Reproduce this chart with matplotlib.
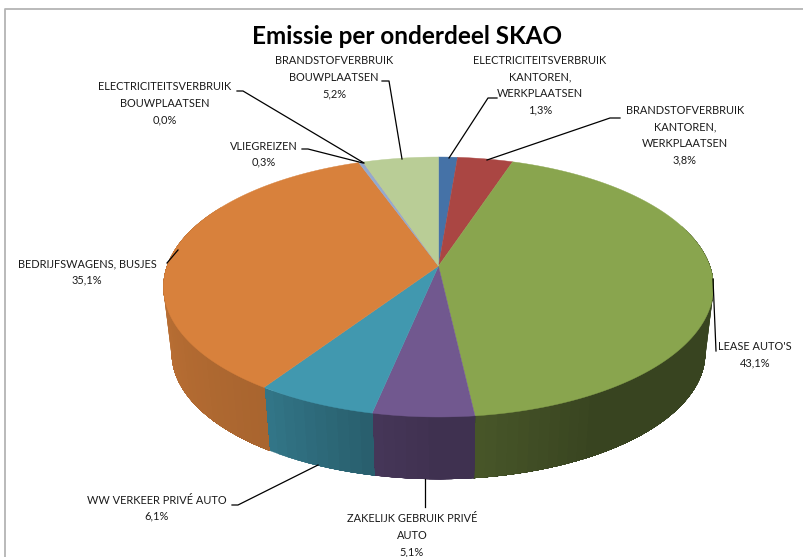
import numpy as np
import matplotlib
matplotlib.use("Agg")
import matplotlib.pyplot as plt
from matplotlib.colors import to_rgb

title = "Emissie per onderdeel SKAO"
categories = ["ELECTRICITEITSVERBRUIK\nKANTOREN,\nWERKPLAATSEN",
              "BRANDSTOFVERBRUIK\nKANTOREN,\nWERKPLAATSEN",
              "LEASE AUTO'S",
              "ZAKELIJK GEBRUIK PRIVÉ\nAUTO",
              "WW VERKEER PRIVÉ AUTO",
              "BEDRIJFSWAGENS, BUSJES",
              "VLIEGREIZEN",
              "ELECTRICITEITSVERBRUIK\nBOUWPLAATSEN",
              "BRANDSTOFVERBRUIK\nBOUWPLAATSEN"]
values = [1.3, 3.8, 43.1, 5.1, 6.1, 35.1, 0.3, 0.0, 5.2]
colors = ["#4572A7", "#AA4643", "#89A54E", "#71588F", "#4198AF",
          "#D8813C", "#93A9CF", "#D19392", "#B9CD96"]

# label centre (x, first-line y) and leader polyline, in figure pixels
label_pos = [(540, 61), (685, 111), (755, 347), (412, 519), (157, 500),
             (87, 264), (264, 146), (165, 87), (334, 61)]
leaders = [[(497, 98), (488, 98), (449, 158)],
           [(620, 118), (610, 118), (487, 160)],
           [(713, 279), (716, 351)],
           [(425, 479), (425, 507)],
           [(232, 505), (238, 505), (318, 465)],
           [(167, 263), (178, 250)],
           [(302, 149), (308, 149), (363, 163)],
           [(237, 91), (243, 91), (364, 163)],
           [(382, 81), (389, 81), (402, 159)]]

W, H = 804, 557
fig = plt.figure(figsize=(W / 100, H / 100), dpi=100)
ax = fig.add_axes([0, 0, 1, 1])
ax.set_xlim(0, W)
ax.set_ylim(H, 0)
ax.axis("off")
font = "Lato"

# perspective projection of the pie disc
cx, cy = 438.5, 266.0
k, a, b = 0.1615, 126.6, 271.4
ell_cy, base_s, base_dy = 287.0, 0.97, 66.0

def top(theta):
    u, v = np.sin(theta), -np.cos(theta)
    d = 1 - k * v
    return cx + b * u / d, cy + a * v / d

def base(theta):
    x, y = top(theta)
    return cx + base_s * (x - cx), ell_cy + base_s * (y - ell_cy) + base_dy

def shade(deg):
    return np.interp(deg, [90, 150, 173, 192, 214, 270, 300],
                     [.41, .41, .52, .62, .78, .88, .88])

edges = np.radians(np.concatenate([[0], np.cumsum(values)]) * 3.6)

# side wall: overlapping strips so no seams show; clockwise angle order,
# each slice painted up to its own end and covered by the next one
for i, col in enumerate(colors):
    a0, a1 = edges[i], edges[i + 1]
    if a1 <= a0:
        continue
    n = max(2, int(np.degrees(a1 - a0) / 2))
    t = np.linspace(a0, a1, n + 1)
    rgb = np.array(to_rgb(col))
    for j in range(n):
        mid = np.degrees((t[j] + t[j + 1]) / 2)
        if mid < 70 or mid > 300:
            continue
        tt = np.linspace(t[j], a1 if mid <= 180 else t[j + 1], 1 + max(1, n - j))
        if mid > 180:
            tt = np.linspace(a0, t[j + 1], j + 2)
        xt, yt = top(tt)
        xb, yb = base(tt)
        z = 2 + (1000 - j if mid > 180 else j) * 1e-4 + i * 0.01
        ax.fill(np.r_[xt, xb[::-1]], np.r_[yt, yb[::-1]], color=rgb * shade(mid),
                lw=0.2, zorder=z)

# top face
for i, col in enumerate(colors):
    a0, a1 = edges[i], edges[i + 1]
    t = np.linspace(a0, a1, max(2, int(np.degrees(a1 - a0)) * 2 + 2))
    x, y = top(t)
    ax.fill(np.r_[cx, x], np.r_[cy, y], color=col, lw=0.3, zorder=3)

# frame: left and top only
ax.plot([5, 5, W], [H, 9, 9], color="#b4b4b4", lw=1.3, zorder=1)

for cat, val, (lx, ly), pts in zip(categories, values, label_pos, leaders):
    lines = cat.split("\n") + [f"{val:.1f}%".replace(".", ",")]
    for n, s in enumerate(lines):
        ax.text(lx, ly + n * 16.4, s, ha="center", va="center", fontsize=7.95,
                family=font, color="#1a1a1a", zorder=5)
    px, py = zip(*pts)
    ax.plot(px, py, color="black", lw=0.9, zorder=4)

ax.text(407.5, 37, title, ha="center", va="center", fontsize=17.5,
        family=font, weight="bold", color="black", zorder=5)

fig.savefig("out.png", dpi=100)
